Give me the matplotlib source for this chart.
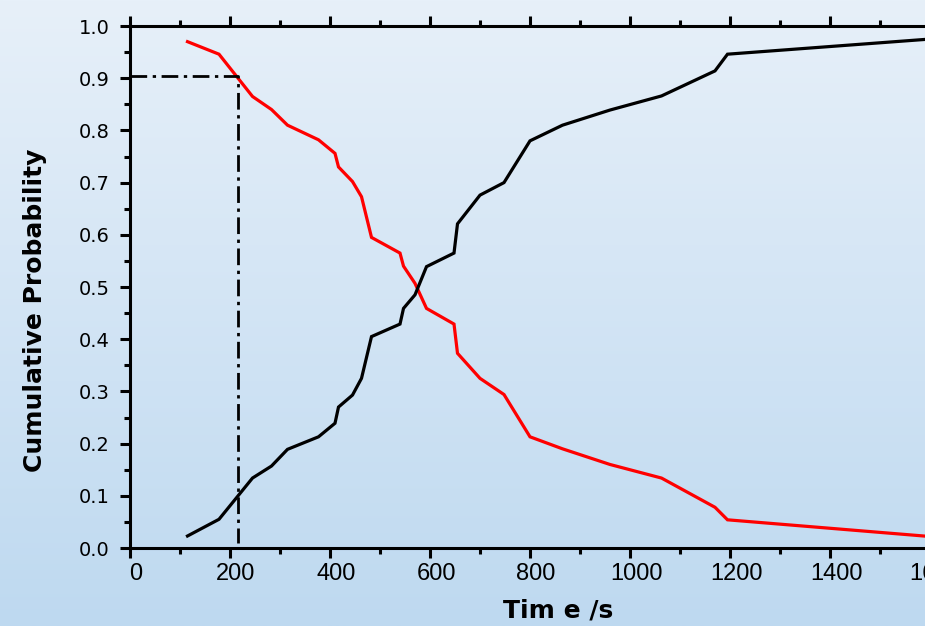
import numpy as np
import matplotlib
matplotlib.use("Agg")
import matplotlib.pyplot as plt
import matplotlib.transforms as mtransforms
from matplotlib.ticker import MultipleLocator

time_s = [115, 178, 245, 283, 315, 377, 410, 417, 445, 463, 483, 540, 547, 570,
          593, 648, 655, 700, 748, 800, 865, 960, 1063, 1170, 1195, 1600]
prob_black = [0.023, 0.055, 0.134, 0.157, 0.189, 0.213, 0.239, 0.270, 0.293, 0.325,
              0.405, 0.429, 0.459, 0.485, 0.539, 0.565, 0.621, 0.676, 0.700, 0.780,
              0.810, 0.839, 0.866, 0.914, 0.946, 0.975]
prob_red = [0.970, 0.946, 0.865, 0.840, 0.810, 0.782, 0.756, 0.730, 0.702, 0.673,
            0.595, 0.565, 0.540, 0.507, 0.459, 0.429, 0.373, 0.325, 0.294, 0.213,
            0.190, 0.160, 0.134, 0.078, 0.054, 0.022]
marker_t = 215
marker_p = 0.905
marker_p_low = 0.01
xticks = [0, 200, 400, 600, 800, 1000, 1200, 1400, 1600]
yticks = [0.0, 0.1, 0.2, 0.3, 0.4, 0.5, 0.6, 0.7, 0.8, 0.9, 1.0]

W, H = 925, 626
fig = plt.figure(figsize=(W / 100, H / 100), dpi=100)

# background gradient
bg = fig.add_axes([0, 0, 1, 1], zorder=-10)
grad = np.linspace(0, 1, 256).reshape(-1, 1)
top = np.array([231, 240, 249]) / 255
bot = np.array([190, 217, 240]) / 255
img = top[None, None, :] * (1 - grad[:, :, None]) + bot[None, None, :] * grad[:, :, None]
bg.imshow(img, aspect="auto", extent=[0, 1, 0, 1])
bg.axis("off")

ax = fig.add_axes([130 / W, 78 / H, 800 / W, 522 / H])
ax.set_facecolor("none")
ax.plot(time_s, prob_red, color="#ff0000", lw=2.3, solid_joinstyle="miter")
ax.plot(time_s, prob_black, color="black", lw=2.3, solid_joinstyle="miter")
ax.plot([0, marker_t, marker_t], [marker_p, marker_p, marker_p_low], color="black",
        lw=2.0, linestyle=(0, (6, 2, 1.2, 2)))

ax.set_xlim(0, 1600)
ax.set_ylim(0, 1.0)
ax.set_xticks(xticks)
ax.set_yticks(yticks)
ax.xaxis.set_minor_locator(MultipleLocator(100))
ax.yaxis.set_minor_locator(MultipleLocator(0.05))
ax.set_yticklabels([f"{v:.1f}" for v in yticks])
ax.set_xticklabels([str(v) for v in xticks])

for s in ["left", "bottom", "top"]:
    ax.spines[s].set_linewidth(2.2)
ax.spines["right"].set_visible(False)
ax.tick_params(axis="both", which="major", direction="out", length=7.5, width=2.2)
ax.tick_params(axis="both", which="minor", direction="out", length=4, width=2.2)
ax.tick_params(axis="x", which="both", top=True, labeltop=False)
ax.tick_params(axis="x", labelsize=17, pad=3)
ax.tick_params(axis="y", labelsize=14, pad=7)
shift = mtransforms.ScaledTranslation(6 / 100, 0, fig.dpi_scale_trans)
for lab in ax.get_xticklabels():
    lab.set_family("Liberation Sans")
    lab.set_transform(lab.get_transform() + shift)
for lab in ax.get_yticklabels():
    lab.set_family("DejaVu Sans")

fig.text(558 / W, 1 - 611 / H, "Tim e /s", ha="center", va="center",
         fontsize=18, fontweight="bold", family="DejaVu Sans")
fig.text(35 / W, 1 - 310 / H, "Cumulative Probability", ha="center", va="center",
         rotation=90, fontsize=18, fontweight="bold", family="DejaVu Sans")

fig.savefig("out.png", dpi=100)
